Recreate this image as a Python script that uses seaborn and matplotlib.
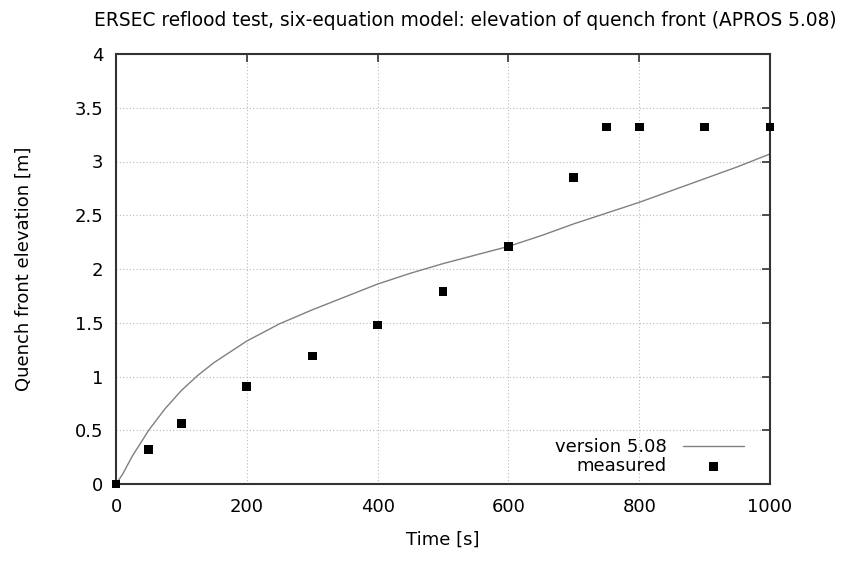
import matplotlib
matplotlib.use("Agg")
import matplotlib.pyplot as plt
import seaborn as sns
import pandas as pd
from matplotlib.ticker import FuncFormatter

# Data
sim_time = [0, 10, 25, 50, 75, 100, 125, 150, 200, 250, 300, 350, 400, 450, 500,
            550, 600, 650, 700, 750, 800, 850, 900, 950, 1000]
sim_elev = [0, 0.09, 0.26, 0.50, 0.70, 0.87, 1.01, 1.13, 1.33, 1.49, 1.62, 1.74, 1.86,
            1.96, 2.05, 2.13, 2.21, 2.31, 2.42, 2.52, 2.62, 2.73, 2.84, 2.95, 3.07]
meas_time = [0, 50, 100, 200, 300, 400, 500, 600, 700, 750, 800, 900, 1000]
meas_elev = [0, 0.32, 0.56, 0.91, 1.19, 1.48, 1.79, 2.21, 2.85, 3.32, 3.32, 3.32, 3.32]
x_ticks = [0, 200, 400, 600, 800, 1000]
y_ticks = [0, 0.5, 1, 1.5, 2, 2.5, 3, 3.5, 4]

sns.set_style("white", {"text.color": "black", "axes.labelcolor": "black",
                        "xtick.color": "black", "ytick.color": "black"})
plt.rcParams['font.family'] = ['DejaVu Sans']

FS = 13

fig = plt.figure(figsize=(8.46, 5.61), dpi=100)
ax = fig.add_axes([116/846, 1-484/561, (770-116)/846, (484-54)/561])

sim = pd.DataFrame({"t": sim_time, "z": sim_elev})
meas = pd.DataFrame({"t": meas_time, "z": meas_elev})

sns.lineplot(data=sim, x="t", y="z", ax=ax, color="#808080", linewidth=1.0,
             label="version 5.08")
sns.scatterplot(data=meas, x="t", y="z", ax=ax, color="black", marker="s",
                s=40, edgecolor="none", label="measured", clip_on=False, zorder=5)

ax.set_xlim(0, 1000)
ax.set_ylim(0, 4)
ax.set_xticks(x_ticks)
ax.set_yticks(y_ticks)
ax.yaxis.set_major_formatter(FuncFormatter(lambda v, p: f"{v:g}"))
ax.grid(True, color="#bbbbbb", linestyle=(0, (1, 2)), linewidth=0.8)
ax.tick_params(direction="in", length=6, width=1.2, color="#333333",
               top=True, right=True, labelsize=FS, labelcolor="black")
ax.tick_params(axis="y", pad=9)
ax.tick_params(axis="x", pad=10)
for s in ax.spines.values():
    s.set_color("#333333")
    s.set_linewidth(1.5)

ax.set_xlabel("Time [s]", fontsize=FS, va="center", color="black")
ax.set_ylabel("Quench front elevation [m]", fontsize=FS, va="center", color="black")
ax.xaxis.set_label_coords(0.5, (484-540)/430)
ax.yaxis.set_label_coords((24-116)/654, 0.5)

fig.text(465/846, 1-20/561, "ERSEC reflood test, six-equation model: elevation of quench front (APROS 5.08)",
         ha="center", va="center", fontsize=13.4, color="black")

leg = ax.legend(loc="lower right", frameon=False, markerfirst=False, fontsize=FS,
                handlelength=3.4, handletextpad=0.9, borderaxespad=0.1,
                bbox_to_anchor=(0.974, 0.0), labelspacing=0.05)
for t in leg.get_texts():
    t.set_ha("right")
    t.set_color("black")

fig.savefig("out.png", dpi=100)
